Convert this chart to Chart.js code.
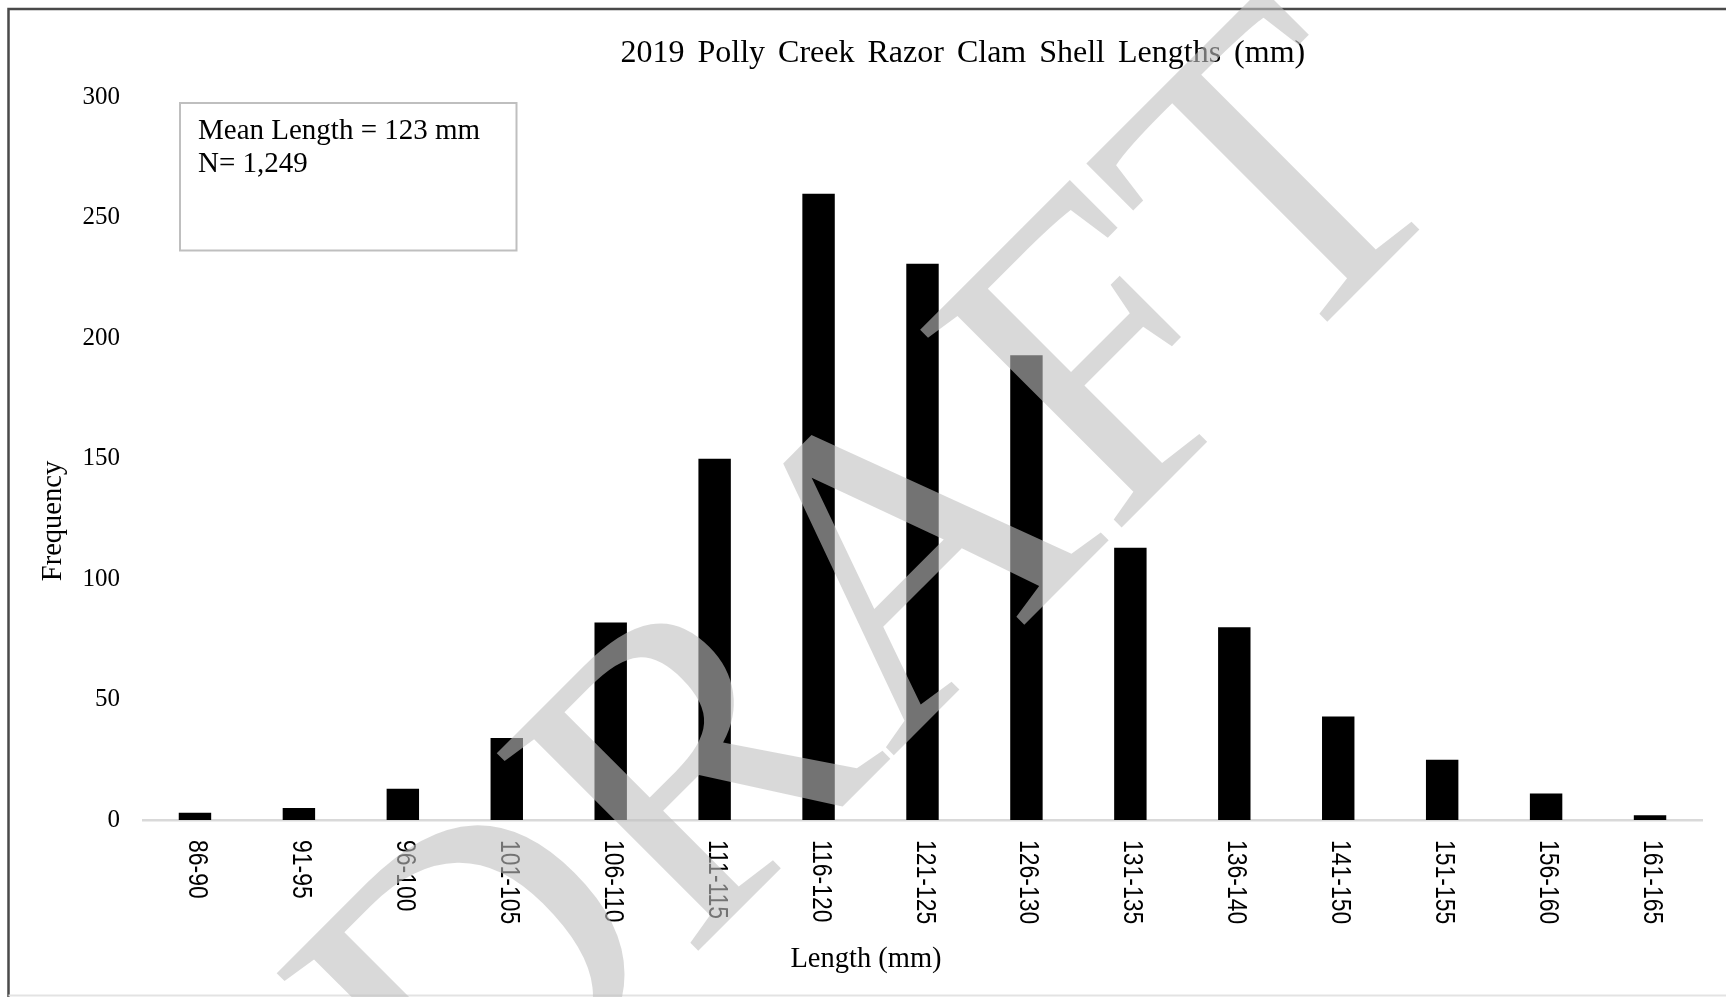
<!DOCTYPE html>
<html><head><meta charset="utf-8">
<script src="https://cdn.jsdelivr.net/npm/chart.js@4.4.1/dist/chart.umd.min.js"></script>
<style>html,body{margin:0;padding:0;background:#fff;} #wrap{width:1726px;height:997px;position:relative;}</style>
</head><body><div id="wrap"><canvas id="c"></canvas></div>
<script>
const categories = ['86-90','91-95','96-100','101-105','106-110','111-115','116-120','121-125','126-130','131-135','136-140','141-150','151-155','156-160','161-165'];
const frequency = [3,5,13,34,82,150,260,231,193,113,80,43,25,11,2];
const yTicks = [0,50,100,150,200,250,300];
const chartTitle = '2019 Polly Creek Razor Clam Shell Lengths (mm)';
const xTitle = 'Length (mm)';
const yTitle = 'Frequency';
const noteLines = ['Mean Length = 123 mm', 'N= 1,249'];
const watermark = 'DRAFT';

const SERIF = '"Liberation Serif", "Times New Roman", serif';
const SANS = '"Liberation Sans", Arial, sans-serif';

const decor = {
  id: 'decor',
  beforeDraw(chart) {
    const ctx = chart.ctx;
    ctx.save();
    ctx.fillStyle = '#fff';
    ctx.fillRect(0, 0, chart.width, chart.height);
    ctx.restore();
  },
  afterDraw(chart) {
    const ctx = chart.ctx;
    const xs = chart.scales.x;
    ctx.save();
    // outer frame
    ctx.strokeStyle = '#4a4a4a';
    ctx.lineWidth = 2.5;
    ctx.beginPath();
    ctx.moveTo(8.5, chart.height);
    ctx.lineTo(8.5, 9);
    ctx.lineTo(chart.width, 9);
    ctx.stroke();
    ctx.strokeStyle = '#e3e3e3';
    ctx.lineWidth = 2;
    ctx.beginPath();
    ctx.moveTo(8.5, 995.5);
    ctx.lineTo(chart.width, 995.5);
    ctx.stroke();

    // title
    ctx.fillStyle = '#000';
    ctx.font = '32px ' + SERIF;
    ctx.textAlign = 'left';
    ctx.textBaseline = 'alphabetic';
    try { ctx.wordSpacing = '5px'; } catch (e) {}
    ctx.fillText(chartTitle, 620.5, 61.5);
    try { ctx.wordSpacing = '0px'; } catch (e) {}

    // note box
    ctx.strokeStyle = '#bfbfbf';
    ctx.lineWidth = 2;
    ctx.strokeRect(180, 103, 336.5, 147.5);
    ctx.font = '29px ' + SERIF;
    ctx.fillText(noteLines[0], 198, 139);
    ctx.fillText(noteLines[1], 198, 172);

    // axis titles
    ctx.font = '28.5px ' + SERIF;
    ctx.textAlign = 'center';
    ctx.fillText(xTitle, 866, 967);
    ctx.save();
    ctx.translate(61, 521);
    ctx.rotate(-Math.PI / 2);
    ctx.fillText(yTitle, 0, 0);
    ctx.restore();

    // x tick labels, rotated clockwise
    ctx.font = '27px ' + SANS;
    ctx.textAlign = 'left';
    ctx.textBaseline = 'middle';
    categories.forEach((lab, i) => {
      const x = xs.getPixelForTick(i);
      ctx.save();
      ctx.translate(x + 1.5, 840);
      ctx.rotate(Math.PI / 2);
      ctx.scale(0.85, 1);
      ctx.fillText(lab, 0, 0);
      ctx.restore();
    });

    // watermark
    ctx.translate(967, 682);
    ctx.rotate(-Math.PI / 4);
    ctx.font = '431px ' + SERIF;
    ctx.fillStyle = 'rgba(192,192,192,0.6)';
    ctx.textAlign = 'center';
    ctx.textBaseline = 'alphabetic';
    ctx.fillText(watermark, 0, 0);
    ctx.restore();
  }
};

new Chart(document.getElementById('c'), {
  type: 'bar',
  data: {
    labels: categories,
    datasets: [{
      data: frequency,
      backgroundColor: '#000',
      borderWidth: 0,
      barPercentage: 0.312,
      categoryPercentage: 1.0
    }]
  },
  options: {
    responsive: true,
    maintainAspectRatio: false,
    animation: false,
    devicePixelRatio: 1,
    layout: { padding: { top: 97.5, left: 0, right: 24, bottom: 0 } },
    plugins: { legend: { display: false }, title: { display: false }, tooltip: { enabled: false } },
    scales: {
      x: {
        grid: { display: false, drawTicks: false },
        border: { display: true, color: '#d9d9d9', width: 2.5 },
        ticks: { display: false },
        afterFit(s) { s.height = 177; }
      },
      y: {
        min: 0, max: 300,
        grid: { display: false, drawTicks: false },
        border: { display: false },
        ticks: { font: { family: SERIF, size: 25 }, color: '#000', padding: 23 },
        afterBuildTicks(s) { s.ticks = yTicks.map(v => ({ value: v })); },
        afterFit(s) { s.width = 143; }
      }
    }
  },
  plugins: [decor]
});
</script>
</body></html>
